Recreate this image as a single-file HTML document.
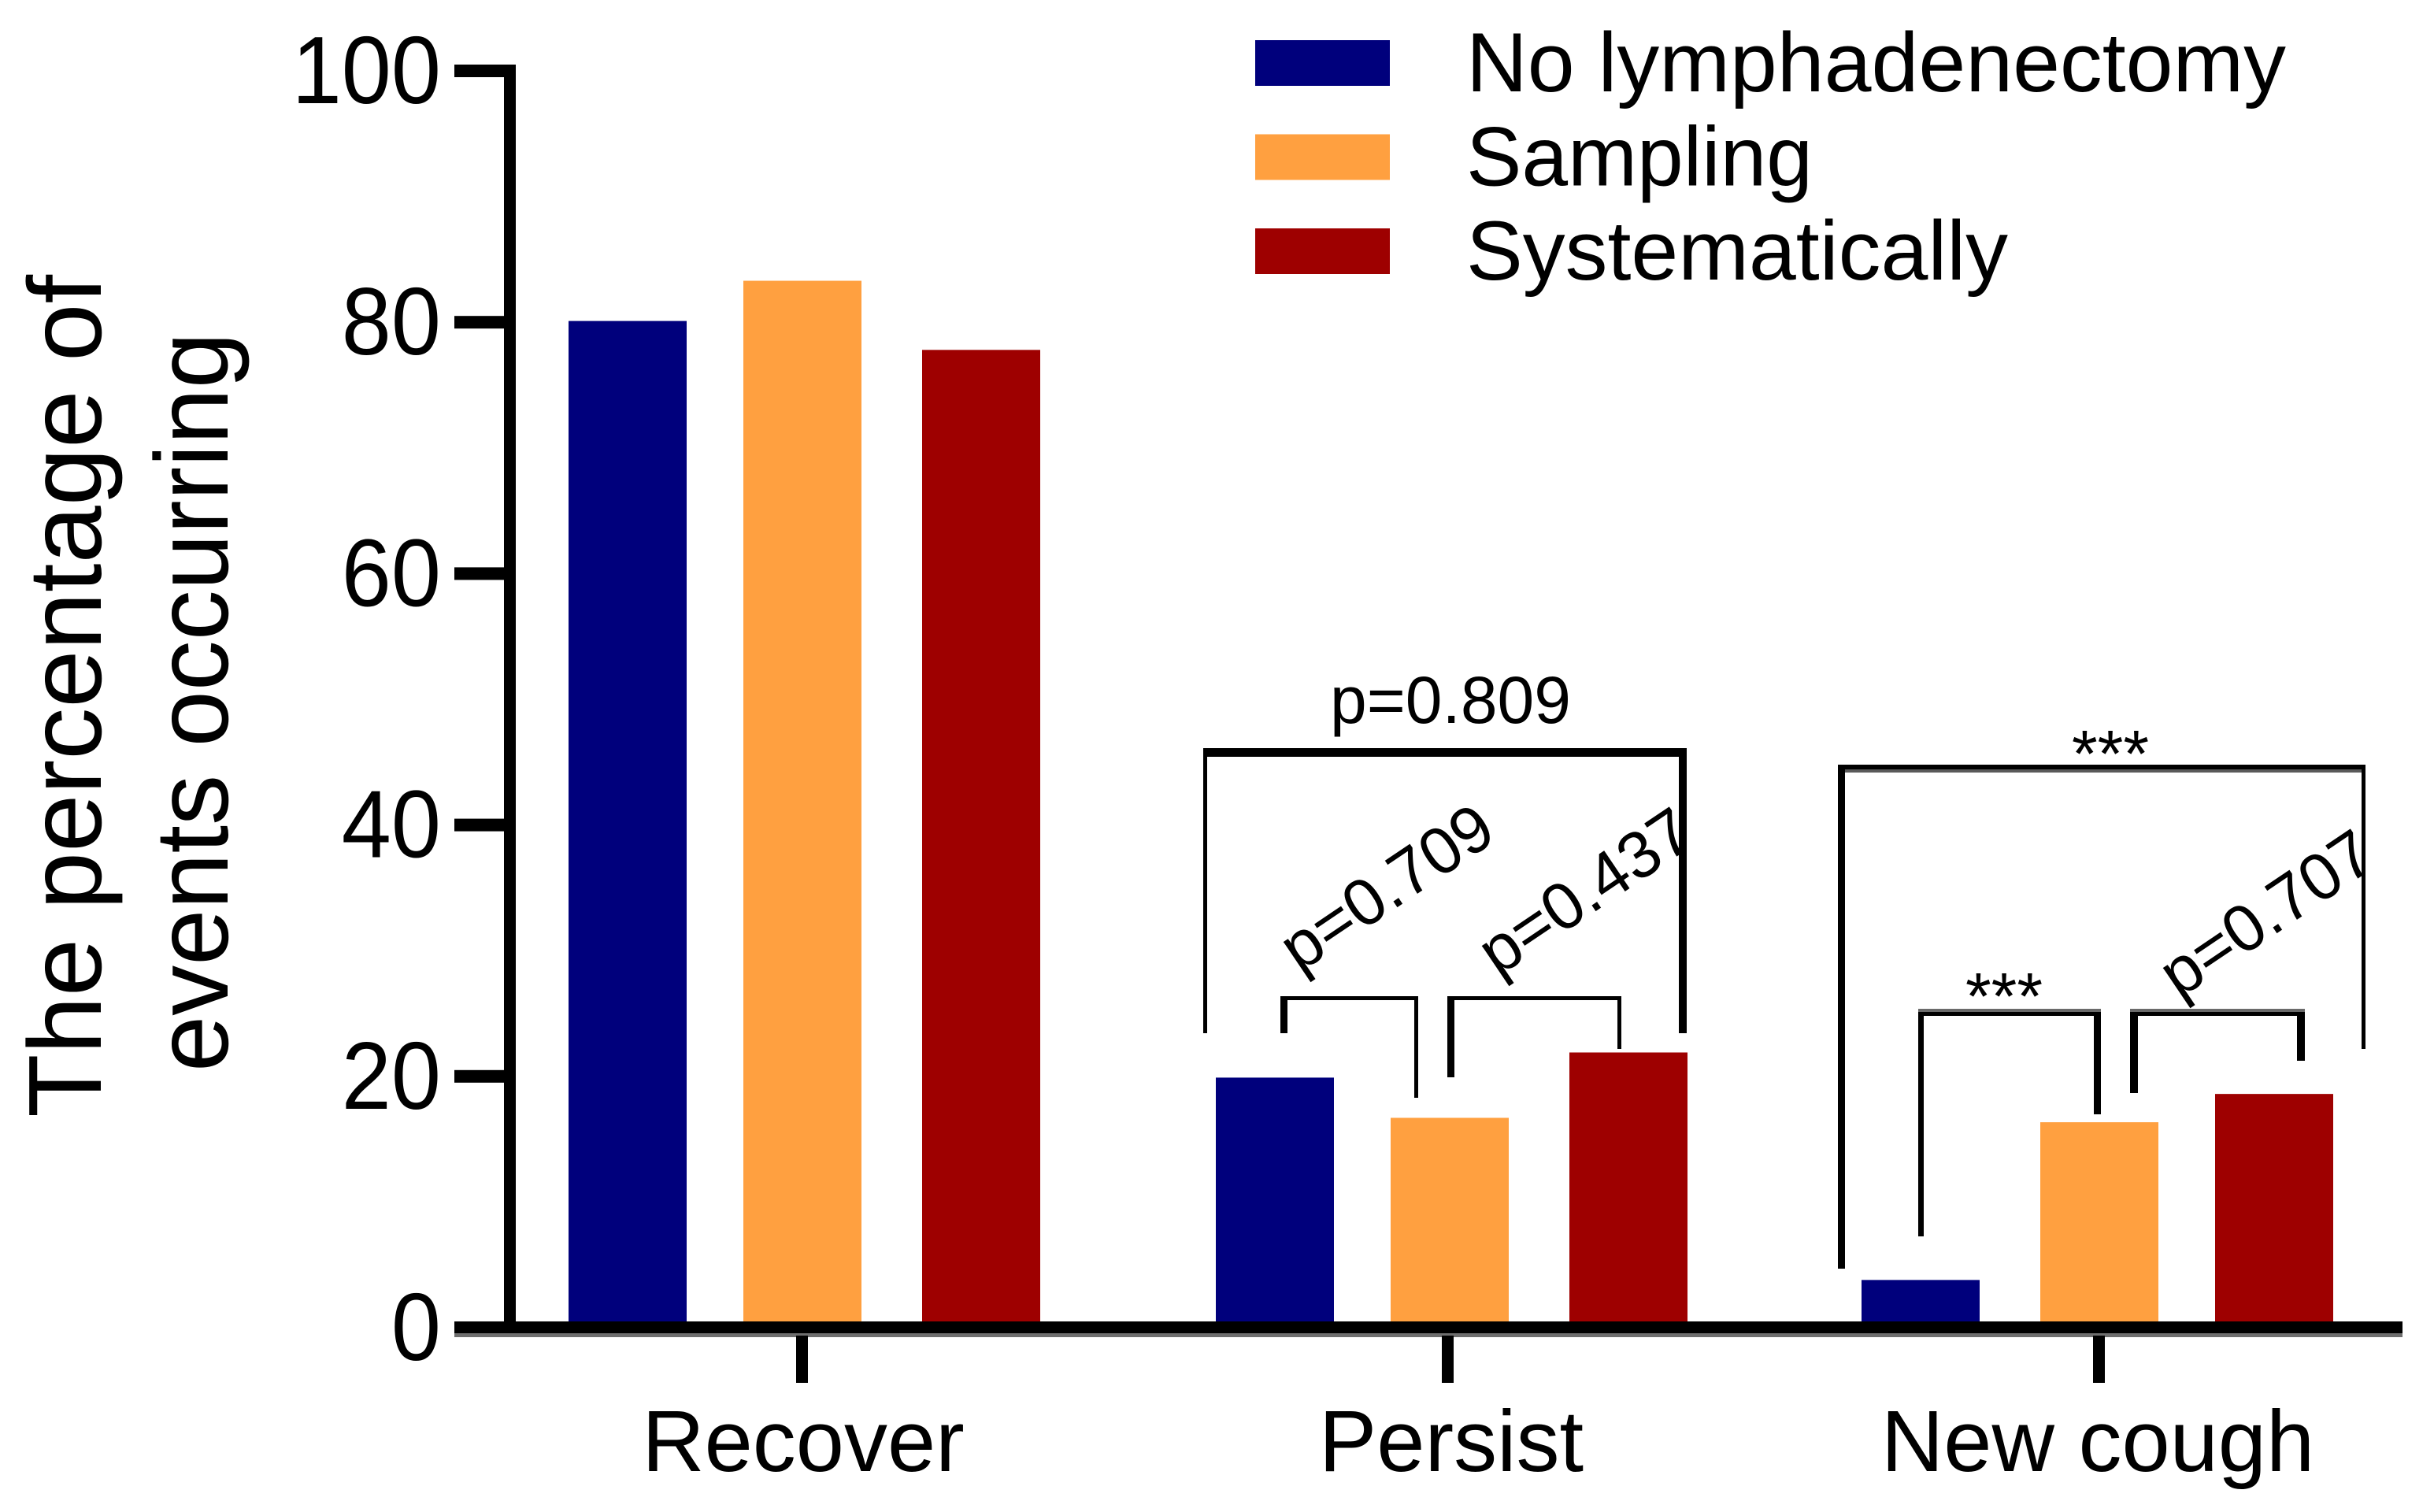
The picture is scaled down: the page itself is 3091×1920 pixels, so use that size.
<!DOCTYPE html>
<html lang="en">
<head>
<meta charset="utf-8">
<title>The percentage of events occurring</title>
<style>
html,body{margin:0;padding:0;background:#fff;}
svg{display:block;}
text{font-family:"Liberation Sans",Arial,sans-serif;fill:#000;}
</style>
</head>
<body>
<svg id="chart" xmlns="http://www.w3.org/2000/svg" width="3091" height="1920" viewBox="0 0 3091 1920">
  <rect x="0" y="0" width="3091" height="1920" fill="#ffffff"/>
  <g id="bars"></g>

  <g id="y-axis-title" font-size="132">
    <text transform="translate(128,1419) rotate(-90)" textLength="1070" lengthAdjust="spacingAndGlyphs">The percentage of</text>
    <text transform="translate(289,1361) rotate(-90)" textLength="939" lengthAdjust="spacingAndGlyphs">events occurring</text>
  </g>

  <g id="annotations">
    <text x="1689" y="918" font-size="84">p=0.809</text>
    <text transform="translate(1650,1236) rotate(-34)" font-size="84">p=0.709</text>
    <text transform="translate(1902,1241) rotate(-34)" font-size="84">p=0.437</text>
    <text transform="translate(2767,1269) rotate(-34)" font-size="84">p=0.707</text>
    <text x="2680" y="986" font-size="84" text-anchor="middle">***</text>
    <text x="2545" y="1294" font-size="84" text-anchor="middle">***</text>

    <path fill="#000" d="M1528 950H2142V1312H2132V961H1533V1312H1528Z"/>
    <path fill="#000" d="M1626 1265H1801V1394H1796V1270H1635V1312H1626Z"/>
    <path fill="#000" d="M1838 1265H2059V1332H2054V1270H1847V1368H1838Z"/>
    <path fill="#000" d="M2334 971H3004V1332H2999V981H2343V1611H2334Z"/>
    <rect x="2343" y="977" width="656" height="4" fill="#5a5a5a"/>
    <path fill="#000" d="M2436 1281H2668V1415H2659V1290H2443V1570H2436Z"/>
    <path fill="#000" d="M2705 1281H2927V1347H2917V1290H2715V1388H2705Z"/>
    <rect x="2436" y="1281" width="232" height="4" fill="#6a6a6a"/>
    <rect x="2705" y="1281" width="222" height="4" fill="#6a6a6a"/>
  </g>

  <g id="y-axis"></g>
  <g id="x-axis"></g>

  <g id="legend"></g>
</svg>
<script>
const categories = ['Recover', 'Persist', 'New cough'];
const seriesNames = ['No lymphadenectomy', 'Sampling', 'Systematically'];
const noLymphadenectomyValues = [80.1, 19.9, 3.8];
const samplingValues = [83.3, 16.7, 16.35];
const systematicallyValues = [77.8, 21.9, 18.6];
const yTickLabels = [0, 20, 40, 60, 80, 100];

const seriesValues = [noLymphadenectomyValues, samplingValues, systematicallyValues];
const seriesColors = ['#00007c', '#ffa040', '#9e0000'];
const SVG_NS = 'http://www.w3.org/2000/svg';

function yScale(v) { return 1686 - 15.96 * v; }
function groupCenter(g) { return 1019 + 823.5 * g - (g === 1 ? 3.5 : 0); }
function barCenter(g, s) {
  const offsets = g === 2 ? [-227, 0, 222] : [-222, 0, 227];
  return groupCenter(g) + offsets[s] + (g === 1 ? 2 : 0);
}
function labelCenter(g) { return groupCenter(g) + (g === 1 ? 4 : g === 2 ? -2 : 1); }
function legendTextLength(s) { return [1041, 440, 688][s]; }
function make(tag, attrs, parent, text) {
  const node = document.createElementNS(SVG_NS, tag);
  Object.keys(attrs).forEach(function (k) { node.setAttribute(k, attrs[k]); });
  if (text !== undefined) node.textContent = text;
  parent.appendChild(node);
  return node;
}

const barsGroup = document.getElementById('bars');
seriesValues.forEach(function (values, s) {
  values.forEach(function (v, g) {
    const bar = make('rect', {
      x: barCenter(g, s) - 75,
      y: yScale(v),
      width: 150,
      height: yScale(0) - yScale(v),
      fill: seriesColors[s]
    }, barsGroup);
    
    
  });
});

const yAxis = document.getElementById('y-axis');
const yLine = make('rect', { x: 640, y: yScale(100) - 8, width: 15, height: yScale(0) - yScale(100) + 8, fill: '#000' }, yAxis);


yTickLabels.forEach(function (t) {
  const tick = make('rect', { x: 577, y: yScale(t) - 8, width: 65, height: 16, fill: '#000' }, yAxis);
  
  
  const label = make('text', {
    transform: 'translate(560,' + (yScale(t) + 41) + ') scale(0.93,1)',
    'font-size': 122,
    'text-anchor': 'end'
  }, yAxis, String(t));
  
  
});

const xAxis = document.getElementById('x-axis');
const xLine = make('rect', { x: 577, y: yScale(0) - 8, width: 2474, height: 15, fill: '#000' }, xAxis);


const xShade = make('rect', { x: 577, y: yScale(0) + 7, width: 2474, height: 5, fill: '#6e6e6e' }, xAxis);


categories.forEach(function (c, g) {
  const tick = make('rect', { x: groupCenter(g) - 8, y: yScale(0) + 10, width: 15, height: 60, fill: '#000' }, xAxis);
  
  
  const label = make('text', { x: labelCenter(g), y: 1868, 'font-size': 110, 'text-anchor': 'middle' }, xAxis, c);
  
  
});

const legend = document.getElementById('legend');
seriesNames.forEach(function (name, s) {
  const entry = make('g', {}, legend);
  
  
  const swatch = make('rect', { x: 1594, y: 51 + 119.5 * s, width: 171, height: 58, fill: seriesColors[s] }, entry);
  
  
  const label = make('text', {
    x: 1862,
    y: 116 + 119.5 * s,
    'font-size': 107,
    textLength: legendTextLength(s),
    lengthAdjust: 'spacingAndGlyphs'
  }, entry, name);
  
  
});
</script>
</body>
</html>
